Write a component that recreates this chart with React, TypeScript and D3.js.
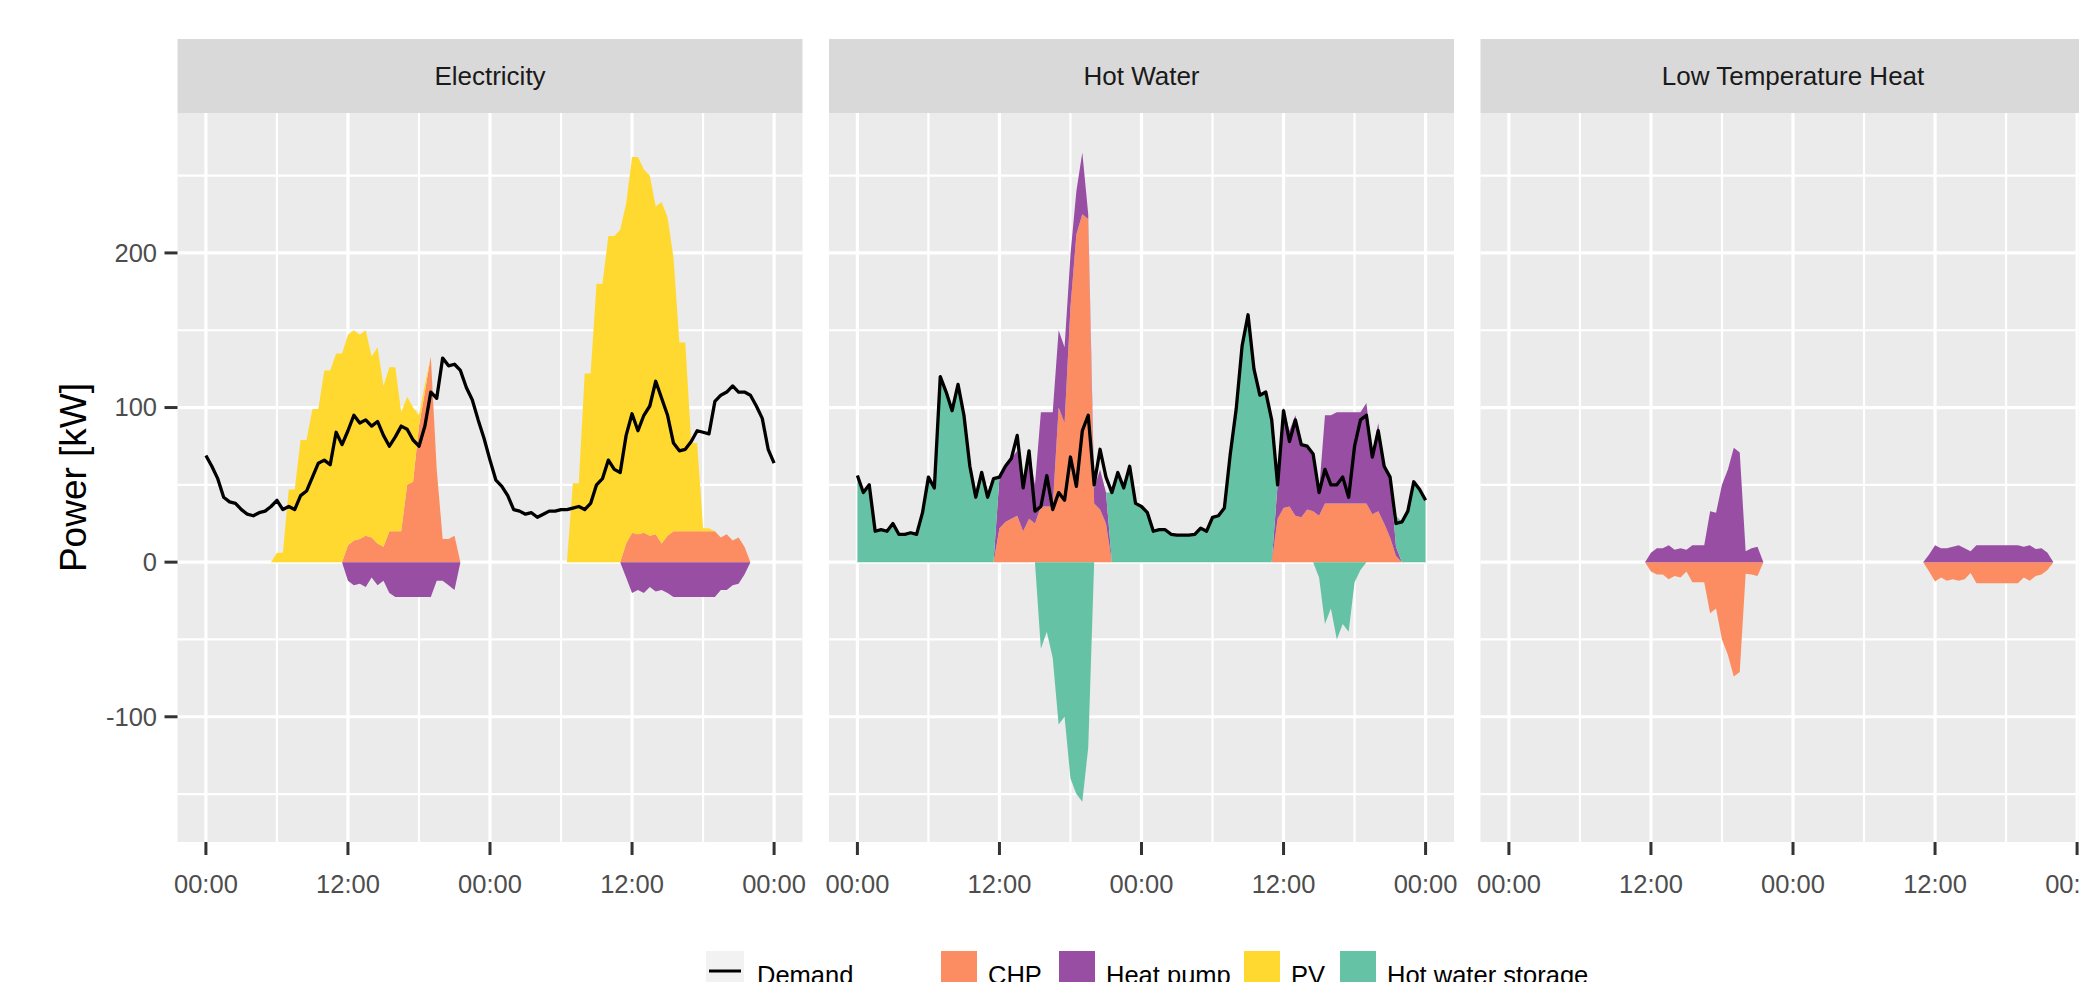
import React from 'react';
import * as d3 from 'd3';

// half-hourly steps over two days
const STEP_HOURS = 0.5;
const timeHours = d3.range(0, 48 + STEP_HOURS / 2, STEP_HOURS);

const panelTitles = ['Electricity', 'Hot Water', 'Low Temperature Heat'];

const techKeys = ['CHP', 'Heat pump', 'PV', 'Hot water storage'];
const techColors = ['#FC8D62', '#984EA3', '#FFD92F', '#66C2A5'];

const yTicks = [-100, 0, 100, 200];
const yMinorTicks = [-150, -50, 50, 150, 250];
const xTicks = [0, 12, 24, 36, 48];
const xTickLabels = ['00:00', '12:00', '00:00', '12:00', '00:00'];
const xMinorTicks = [6, 18, 30, 42];

// ---- Electricity (kW) ----
const elecDemand = [
  69, 62, 54, 42, 39, 38, 34, 31, 30, 32, 33, 36,
  40, 34, 36, 34, 43, 46, 55, 64, 66, 63, 84, 76,
  85, 95, 90, 92, 88, 91, 82, 75, 81, 88, 86, 79,
  75, 88, 110, 106, 132, 127, 128, 124, 113, 105, 92, 80,
  66, 53, 49, 43, 34, 33, 31, 32, 29, 31, 33, 33,
  34, 34, 35, 36, 34, 38, 50, 54, 66, 60, 58, 82,
  96, 85, 95, 101, 117, 106, 95, 77, 72, 73, 78, 85,
  84, 83, 104, 108, 110, 114, 110, 110, 108, 101, 93, 73,
  64,
];
const elecPV = [
  0, 0, 0, 0, 0, 0, 0, 0, 0, 0, 0, 0,
  6, 6, 47, 47, 79, 79, 99, 99, 124, 124, 135, 135,
  136, 136, 132, 133, 117, 127, 104, 106, 106, 77, 57, 48,
  7, 5, 0, 0, 0, 0, 0, 0, 0, 0, 0, 0,
  0, 0, 0, 0, 0, 0, 0, 0, 0, 0, 0, 0,
  0, 0, 51, 51, 122, 122, 180, 180, 211, 211, 215, 220,
  243, 244, 235, 233, 212, 221, 206, 177, 122, 122, 57, 57,
  2, 2, 0, 0, 0, 0, 0, 0, 0, 0, 0, 0,
  0,
];
const elecCHP = [
  0, 0, 0, 0, 0, 0, 0, 0, 0, 0, 0, 0,
  0, 0, 0, 0, 0, 0, 0, 0, 0, 0, 0, 0,
  11, 14, 15, 17, 16, 12, 10, 20, 20, 20, 50, 52,
  88, 110, 133, 60, 15, 15, 17, 0, 0, 0, 0, 0,
  0, 0, 0, 0, 0, 0, 0, 0, 0, 0, 0, 0,
  0, 0, 0, 0, 0, 0, 0, 0, 0, 0, 0, 12,
  19, 18, 19, 17, 18, 12, 17, 20, 20, 20, 20, 20,
  20, 20, 20, 16, 18, 14, 16, 10, 0, 0, 0, 0,
  0,
];
const elecHeatPump = [
  0, 0, 0, 0, 0, 0, 0, 0, 0, 0, 0, 0,
  0, 0, 0, 0, 0, 0, 0, 0, 0, 0, 0, 0,
  -12, -15, -14, -16, -10, -15, -12, -20, -22.5, -22.5, -22.5, -22.5,
  -22.5, -22.5, -22.5, -12, -12, -15, -18, 0, 0, 0, 0, 0,
  0, 0, 0, 0, 0, 0, 0, 0, 0, 0, 0, 0,
  0, 0, 0, 0, 0, 0, 0, 0, 0, 0, 0, -10,
  -20, -18, -20, -16, -19, -18, -20, -22.5, -22.5, -22.5, -22.5, -22.5,
  -22.5, -22.5, -22.5, -18, -18, -15, -14, -8, 0, 0, 0, 0,
  0,
];

// ---- Hot water (kW) ----
const hwDemand = [
  56, 45, 50, 20, 21, 20, 25, 18, 18, 19, 18, 32,
  55, 48, 120, 110, 98, 115, 95, 62, 42, 58, 42, 54,
  55, 62, 67, 82, 48, 72, 33, 36, 56, 34, 45, 40,
  68, 49, 85, 95, 50, 73, 55, 45, 58, 48, 62, 38,
  36, 32, 20, 21, 21, 18, 17.5, 17.5, 17.5, 18, 22, 20,
  29, 30, 35, 70, 99, 140, 160, 125, 108, 110, 92, 50,
  98, 78, 92, 76, 75, 70, 45, 60, 50, 50, 55, 42,
  75, 92, 95, 68, 85, 62, 55, 25, 26, 33, 52, 47,
  40,
];
const hwCHP = [
  0, 0, 0, 0, 0, 0, 0, 0, 0, 0, 0, 0,
  0, 0, 0, 0, 0, 0, 0, 0, 0, 0, 0, 0,
  22, 26, 28, 30, 20, 28, 25, 36, 36, 36, 100, 90,
  165, 212, 225, 222, 38, 34, 25, 0, 0, 0, 0, 0,
  0, 0, 0, 0, 0, 0, 0, 0, 0, 0, 0, 0,
  0, 0, 0, 0, 0, 0, 0, 0, 0, 0, 0, 28,
  35, 36, 30, 29, 34, 33, 30, 38, 38, 38, 38, 38,
  38, 38, 38, 31, 33, 25, 16, 4, 0, 0, 0, 0,
  0,
];
const hwHeatPump = [
  0, 0, 0, 0, 0, 0, 0, 0, 0, 0, 0, 0,
  0, 0, 0, 0, 0, 0, 0, 0, 0, 0, 0, 0,
  33, 36, 39, 42, 28, 44, 25, 61, 61, 61, 50, 49,
  34, 28, 40, 3, 10, 26, 20, 0, 0, 0, 0, 0,
  0, 0, 0, 0, 0, 0, 0, 0, 0, 0, 0, 0,
  0, 0, 0, 0, 0, 0, 0, 0, 0, 0, 0, 22,
  65, 49, 65, 48, 41, 37, 16, 57, 57, 59, 59, 59,
  59, 59, 65, 39, 57, 37, 39, 6, 0, 0, 0, 0,
  0,
];
const hwStorage = [
  56, 45, 50, 20, 21, 20, 25, 18, 18, 19, 18, 32,
  55, 48, 120, 110, 98, 115, 95, 62, 42, 58, 42, 54,
  0, 0, 0, 0, 0, 0, 0, -56, -45, -62, -105, -100,
  -140, -150, -155, -120, 0, 0, 0, 45, 58, 48, 62, 38,
  36, 32, 20, 21, 21, 18, 17.5, 17.5, 17.5, 18, 22, 20,
  29, 30, 35, 70, 99, 140, 160, 125, 108, 110, 92, 0,
  0, 0, 0, 0, 0, 0, -10, -40, -30, -50, -40, -45,
  -13, -5, 0, 0, 0, 0, 0, 20, 26, 33, 52, 47,
  40,
];

// ---- Low temperature heat (kW) ----
const ltHeatPump = [
  0, 0, 0, 0, 0, 0, 0, 0, 0, 0, 0, 0,
  0, 0, 0, 0, 0, 0, 0, 0, 0, 0, 0, 0,
  6, 9, 9, 11, 8, 9, 8, 11, 11, 11, 33, 32,
  50, 60, 74, 71, 7, 9, 10, 0, 0, 0, 0, 0,
  0, 0, 0, 0, 0, 0, 0, 0, 0, 0, 0, 0,
  0, 0, 0, 0, 0, 0, 0, 0, 0, 0, 0, 5,
  11, 9, 9, 10, 11, 9, 7, 11, 11, 11, 11, 11,
  11, 11, 11, 10, 11, 8.5, 9, 6, 0, 0, 0, 0,
  0,
];
const ltCHP = [
  0, 0, 0, 0, 0, 0, 0, 0, 0, 0, 0, 0,
  0, 0, 0, 0, 0, 0, 0, 0, 0, 0, 0, 0,
  -6, -8, -8, -11, -9, -10, -6, -13, -13, -13, -33, -30,
  -50, -60, -74, -71, -7.5, -8, -9, 0, 0, 0, 0, 0,
  0, 0, 0, 0, 0, 0, 0, 0, 0, 0, 0, 0,
  0, 0, 0, 0, 0, 0, 0, 0, 0, 0, 0, -6,
  -12.5, -10, -12, -11, -12, -11, -7, -13.6, -13.6, -13.6, -13.6, -13.6,
  -13.6, -13.6, -13.6, -10, -12, -9, -8, -5, 0, 0, 0, 0,
  0,
];

const panels = [
  { title: panelTitles[0], demand: elecDemand, series: { 'CHP': elecCHP, 'Heat pump': elecHeatPump, 'PV': elecPV } },
  { title: panelTitles[1], demand: hwDemand, series: { 'CHP': hwCHP, 'Heat pump': hwHeatPump, 'Hot water storage': hwStorage } },
  { title: panelTitles[2], demand: null, series: { 'CHP': ltCHP, 'Heat pump': ltHeatPump } },
];

// layout
const WIDTH = 2079;
const HEIGHT = 982;
const PANEL_W = 625;
const PANEL_GAP = 26.5;
const FIRST_LEFT = 177.5;
const STRIP_TOP = 39;
const PLOT_TOP = 113;
const PLOT_BOTTOM = 842;
const FONT = '"Liberation Sans", Arial, Helvetica, sans-serif';

const yScale = d3.scaleLinear().domain([-181, 290.5]).range([PLOT_BOTTOM, PLOT_TOP]);

// stack positives upward and negatives downward; a zero value sits
// on the side its neighbours are on, so no slivers cross other bands
function offsetBySign(series: any[], order: number[]) {
  const n = series.length;
  if (!n) return;
  const m = series[order[0]].length;
  for (let j = 0; j < m; j++) {
    let yp = 0;
    let yn = 0;
    for (let i = 0; i < n; i++) {
      const s = series[order[i]];
      const d = s[j];
      const dy = d[1] - d[0];
      let sign = Math.sign(dy);
      if (sign === 0) {
        const prev = j > 0 ? s[j - 1].data[s.key] : 0;
        const next = j < m - 1 ? s[j + 1].data[s.key] : 0;
        sign = Math.sign(prev) || Math.sign(next) || 1;
      }
      if (sign > 0) {
        d[0] = yp;
        d[1] = yp += dy;
      } else {
        d[1] = yn;
        d[0] = yn += dy;
      }
    }
  }
}

function Panel({ panel, left }: { panel: any; left: number }) {
  const x = d3.scaleLinear().domain([-2.4, 50.4]).range([left, left + PANEL_W]);
  const keys = techKeys.filter((k) => panel.series[k]);
  const rows = timeHours.map((t, i) => {
    const row: any = { t };
    keys.forEach((k) => { row[k] = panel.series[k][i]; });
    return row;
  });
  const stacked = d3.stack().keys(keys).offset(offsetBySign)(rows);
  const area = d3.area<any>()
    .x((d) => x(d.data.t))
    .y0((d) => yScale(d[0]))
    .y1((d) => yScale(d[1]));
  const line = d3.line<number>()
    .x((d, i) => x(timeHours[i]))
    .y((d) => yScale(d));

  return (
    <g>
      {/* strip */}
      <rect x={left} y={STRIP_TOP} width={PANEL_W} height={PLOT_TOP - STRIP_TOP} fill="#D9D9D9" />
      <text x={left + PANEL_W / 2} y={85} textAnchor="middle" fontSize={26} fill="#1A1A1A">{panel.title}</text>

      {/* panel background + grid */}
      <rect x={left} y={PLOT_TOP} width={PANEL_W} height={PLOT_BOTTOM - PLOT_TOP} fill="#EBEBEB" />
      {yMinorTicks.map((v) => (
        <line key={'ym' + v} x1={left} x2={left + PANEL_W} y1={yScale(v)} y2={yScale(v)} stroke="#fff" strokeWidth={2.2} />
      ))}
      {xMinorTicks.map((t) => (
        <line key={'xm' + t} x1={x(t)} x2={x(t)} y1={PLOT_TOP} y2={PLOT_BOTTOM} stroke="#fff" strokeWidth={2.2} />
      ))}
      {yTicks.map((v) => (
        <line key={'y' + v} x1={left} x2={left + PANEL_W} y1={yScale(v)} y2={yScale(v)} stroke="#fff" strokeWidth={3.2} />
      ))}
      {xTicks.map((t) => (
        <line key={'x' + t} x1={x(t)} x2={x(t)} y1={PLOT_TOP} y2={PLOT_BOTTOM} stroke="#fff" strokeWidth={3.2} />
      ))}

      {/* stacked areas */}
      {stacked.map((s) => (
        <path key={s.key} d={area(s) || ''} fill={techColors[techKeys.indexOf(s.key)]} />
      ))}

      {/* demand */}
      {panel.demand && (
        <path d={line(panel.demand) || ''} fill="none" stroke="#000" strokeWidth={3.3} strokeLinejoin="round" />
      )}

      {/* x axis */}
      {xTicks.map((t, i) => (
        <g key={'xt' + t}>
          <line x1={x(t)} x2={x(t)} y1={PLOT_BOTTOM} y2={PLOT_BOTTOM + 13} stroke="#333333" strokeWidth={3} />
          <text x={x(t)} y={893} textAnchor="middle" fontSize={25.5} fill="#4D4D4D">{xTickLabels[i]}</text>
        </g>
      ))}
    </g>
  );
}

export default function App() {
  const lefts = panels.map((p, i) => FIRST_LEFT + i * (PANEL_W + PANEL_GAP));
  const fillLegendX = [941, 1059, 1244, 1340];

  return (
    <div style={{ position: 'absolute', left: 0, top: 0 }}>
      <svg width={WIDTH} height={HEIGHT} style={{ display: 'block', background: '#fff' }} fontFamily={FONT}>
        {panels.map((p, i) => (
          <Panel key={p.title} panel={p} left={lefts[i]} />
        ))}

        {/* y axis on the first panel */}
        {yTicks.map((v) => (
          <g key={'yt' + v}>
            <line x1={FIRST_LEFT - 13} x2={FIRST_LEFT} y1={yScale(v)} y2={yScale(v)} stroke="#333333" strokeWidth={3} />
            <text x={157} y={yScale(v)} dy="0.35em" textAnchor="end" fontSize={25.5} fill="#4D4D4D">{v}</text>
          </g>
        ))}
        <text transform={`translate(86,${(PLOT_TOP + PLOT_BOTTOM) / 2}) rotate(-90)`} textAnchor="middle" fontSize={37} fill="#000">
          Power [kW]
        </text>

        {/* legend */}
        <rect x={706} y={951} width={38} height={40} fill="#F2F2F2" />
        <line x1={709} x2={741} y1={971} y2={971} stroke="#000" strokeWidth={3} />
        <text x={757} y={984} fontSize={25.5} fill="#000">Demand</text>
        {techKeys.map((k, i) => (
          <g key={'lg' + k}>
            <rect x={fillLegendX[i]} y={951} width={36} height={40} fill={techColors[i]} />
            <text x={fillLegendX[i] + 47} y={984} fontSize={25.5} fill="#000">{k}</text>
          </g>
        ))}
      </svg>
    </div>
  );
}
